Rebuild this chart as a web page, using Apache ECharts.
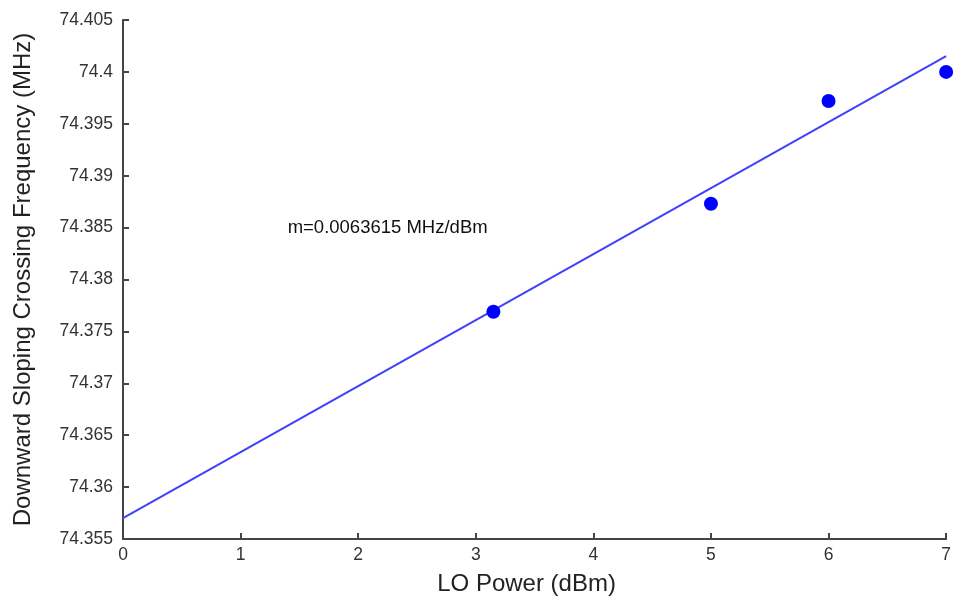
<!DOCTYPE html>
<html>
<head>
<meta charset="utf-8">
<style>
  html, body { margin: 0; padding: 0; background: #fff; }
  #chart { width: 954px; height: 601px; }
</style>
<script src="https://cdn.jsdelivr.net/npm/echarts@6/dist/echarts.min.js"></script>
</head>
<body>
<div id="chart"></div>
<script>
// Measured crossing frequency vs LO power
const loPower = [3.15, 5, 6, 7];
const crossingFreq = [74.3769, 74.3873, 74.3972, 74.4000];

// Linear fit endpoints
const fitX = [0, 7];
const fitY = [74.357, 74.40153];

// Slope annotation
const slopeText = 'm=0.0063615 MHz/dBm';
const slopeAt = [1.4, 74.385];

const xTicks = [0, 1, 2, 3, 4, 5, 6, 7];
const yTicks = [74.355, 74.36, 74.365, 74.37, 74.375, 74.38, 74.385, 74.39, 74.395, 74.4, 74.405];

const FONT = '"Liberation Sans", Arial, Helvetica, sans-serif';
const axisColor = '#444';

const chart = echarts.init(document.getElementById('chart'), null, { renderer: 'canvas' });

chart.setOption({
  animation: false,
  backgroundColor: '#fff',
  grid: { left: 123, right: 7, top: 20, bottom: 61, containLabel: false },
  xAxis: {
    type: 'value',
    min: xTicks[0],
    max: xTicks[xTicks.length - 1],
    interval: 1,
    name: 'LO Power (dBm)',
    nameLocation: 'middle',
    nameGap: 33,
    nameTextStyle: { fontFamily: FONT, fontSize: 24, color: '#222', padding: [0, 16, 0, 0] },
    axisLine: { show: true, lineStyle: { color: axisColor, width: 2 } },
    axisTick: { show: true, inside: true, length: 6, lineStyle: { color: axisColor, width: 2 } },
    axisLabel: { fontFamily: FONT, fontSize: 17.5, color: '#333', margin: 7 },
    splitLine: { show: false }
  },
  yAxis: {
    type: 'value',
    min: yTicks[0],
    max: yTicks[yTicks.length - 1],
    interval: 0.005,
    name: 'Downward Sloping Crossing Frequency (MHz)',
    nameLocation: 'middle',
    nameGap: 88,
    nameTextStyle: { fontFamily: FONT, fontSize: 24, color: '#222' },
    axisLine: { show: true, lineStyle: { color: axisColor, width: 2 } },
    axisTick: { show: true, inside: true, length: 6, lineStyle: { color: axisColor, width: 2 } },
    axisLabel: {
      fontFamily: FONT, fontSize: 17.5, color: '#333', margin: 10,
      formatter: v => String(parseFloat(v.toFixed(3)))
    },
    splitLine: { show: false }
  },
  series: [
    {
      type: 'line',
      data: fitX.map((x, i) => [x, fitY[i]]),
      showSymbol: false,
      lineStyle: { color: '#4040ff', width: 2 },
      z: 2
    },
    {
      type: 'scatter',
      data: loPower.map((x, i) => [x, crossingFreq[i]]),
      symbol: 'circle',
      symbolSize: 14,
      itemStyle: { color: '#0000ff', opacity: 1 },
      z: 3
    },
    {
      type: 'scatter',
      data: [slopeAt],
      symbolSize: 0,
      silent: true,
      itemStyle: { opacity: 1 },
      label: {
        show: true,
        position: 'right',
        distance: 0,
        formatter: slopeText,
        fontFamily: FONT,
        fontSize: 18.5,
        color: '#111'
      }
    }
  ]
});
</script>
</body>
</html>
